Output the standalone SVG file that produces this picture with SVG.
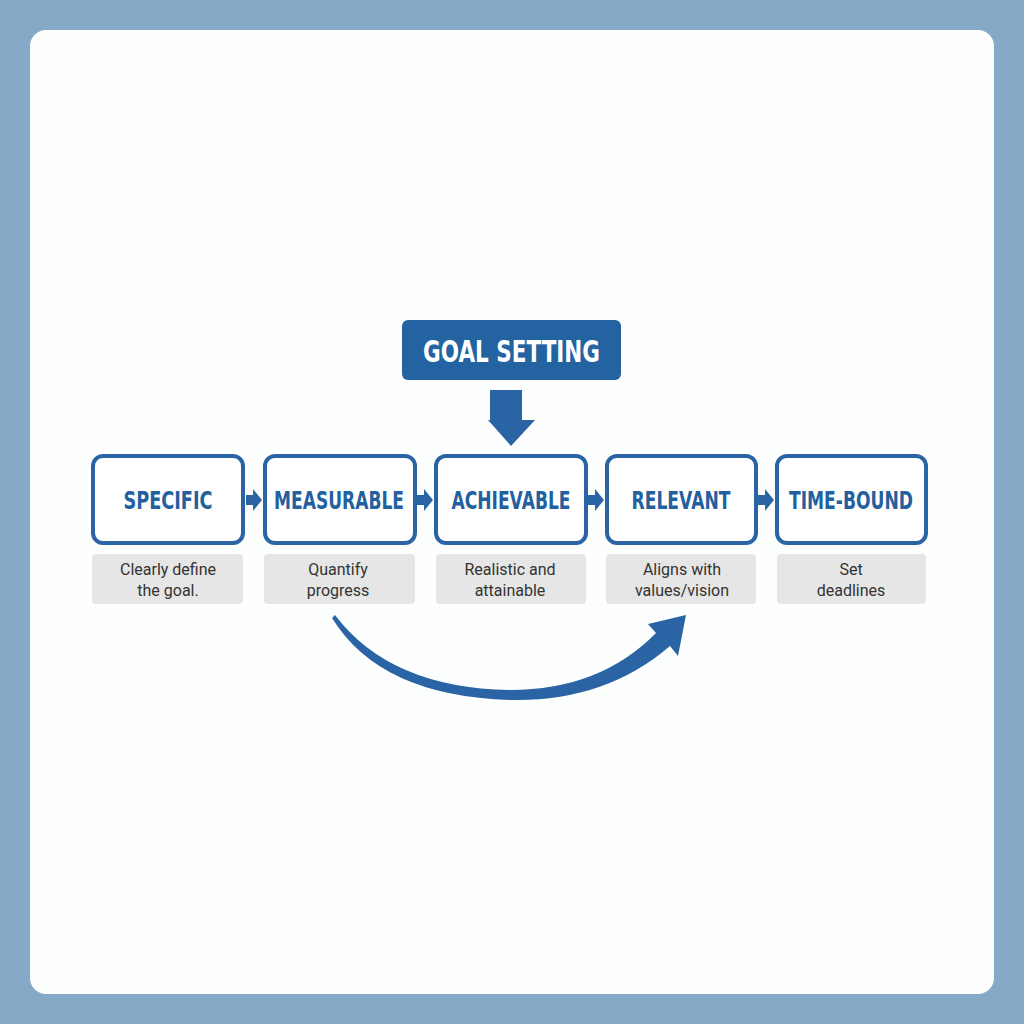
<svg xmlns="http://www.w3.org/2000/svg" width="1024" height="1024" viewBox="0 0 1024 1024">
<style>
.box{fill:#fff;stroke:#2b64a4;stroke-width:4}
.desc{fill:#e6e6e6}
.t{font-family:"DejaVu Sans",sans-serif;font-weight:bold;font-size:25px;fill:#245f9e;text-anchor:middle}
.d{font-family:Roboto,"Liberation Sans",sans-serif;font-size:16px;fill:#333;text-anchor:middle}
.a{fill:#2b64a4}
</style>
<rect width="1024" height="1024" fill="#86a9c7"/>
<rect x="30" y="30" width="964" height="964" rx="16" fill="#fdfefe"/>
<g id="goal">
<rect x="402" y="320" width="219" height="60" rx="6" fill="#2363a2"/>
<text x="511.5" y="362" class="t" style="fill:#fff;font-size:30px" textLength="177" lengthAdjust="spacingAndGlyphs">GOAL SETTING</text>
</g>
<g id="specific"><rect class="box" x="93" y="456" width="150" height="87" rx="10"/><text class="t" x="168" y="509" textLength="89" lengthAdjust="spacingAndGlyphs">SPECIFIC</text>
<rect class="desc" x="92" y="554" width="151" height="50" rx="4"/><text class="d" x="168" y="575">Clearly define</text><text class="d" x="168" y="596">the goal.</text></g>
<g id="measurable"><rect class="box" x="265" y="456" width="150" height="87" rx="10"/><text class="t" x="339" y="509" textLength="130" lengthAdjust="spacingAndGlyphs">MEASURABLE</text>
<rect class="desc" x="264" y="554" width="151" height="50" rx="4"/><text class="d" x="338" y="575">Quantify</text><text class="d" x="338" y="596">progress</text></g>
<g id="achievable"><rect class="box" x="436" y="456" width="150" height="87" rx="10"/><text class="t" x="511" y="509" textLength="119" lengthAdjust="spacingAndGlyphs">ACHIEVABLE</text>
<rect class="desc" x="436" y="554" width="150" height="50" rx="4"/><text class="d" x="510" y="575">Realistic and</text><text class="d" x="510" y="596">attainable</text></g>
<g id="relevant"><rect class="box" x="607" y="456" width="149" height="87" rx="10"/><text class="t" x="681" y="509" textLength="99" lengthAdjust="spacingAndGlyphs">RELEVANT</text>
<rect class="desc" x="606" y="554" width="150" height="50" rx="4"/><text class="d" x="682" y="575">Aligns with</text><text class="d" x="682" y="596">values/vision</text></g>
<g id="timebound"><rect class="box" x="777" y="456" width="149" height="87" rx="10"/><text class="t" x="851" y="509" textLength="124" lengthAdjust="spacingAndGlyphs">TIME-BOUND</text>
<rect class="desc" x="777" y="554" width="149" height="50" rx="4"/><text class="d" x="851" y="575">Set</text><text class="d" x="851" y="596">deadlines</text></g>
<g id="connectors">
<path class="a" d="M490 390 H522 V420 H535 L511 446 L488 420 H490 Z"/>
<path class="a" d="M246 495 H253 V489 L262 500 L253 511 V505 H246 Z"/>
<path class="a" d="M417 495 H424 V489 L433 500 L424 511 V505 H417 Z"/>
<path class="a" d="M588 495 H595 V489 L604 500 L595 511 V505 H588 Z"/>
<path class="a" d="M758 495 H765 V489 L774 500 L765 511 V505 H758 Z"/>
<path class="a" d="M335 615 Q390 688 510 690 Q600 690 656 633 L648 624 L686 615 L678 656 L670 646 Q605 702 510 700 Q380 696 332 618 Z"/>
</g>
</svg>
